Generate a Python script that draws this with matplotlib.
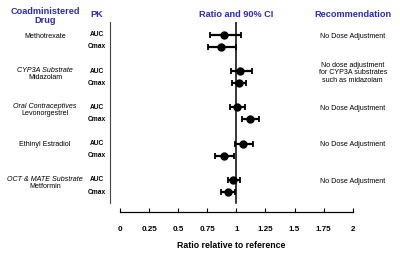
import matplotlib
matplotlib.use("Agg")
import numpy as np
import matplotlib.pyplot as plt

plt.rcParams['font.family'] = ['Liberation Sans', 'DejaVu Sans']

# data
drugs = ["Methotrexate", "Midazolam", "Levonorgestrel", "Ethinyl Estradiol", "Metformin"]
drug_class = ["", "CYP3A Substrate", "Oral Contraceptives", "", "OCT & MATE Substrate"]
pk_params = ["AUC", "Cmax"]
ratio = [0.89, 0.867, 1.033, 1.019, 1.007, 1.113, 1.059, 0.893, 0.973, 0.924]
ci_low = [0.77, 0.758, 0.953, 0.961, 0.947, 1.05, 0.987, 0.815, 0.927, 0.864]
ci_high = [1.036, 0.996, 1.133, 1.084, 1.073, 1.196, 1.144, 0.981, 1.03, 0.987]
recommendation = ["No Dose Adjustment",
                  "No dose adjustment\nfor CYP3A substrates\nsuch as midazolam",
                  "No Dose Adjustment", "No Dose Adjustment", "No Dose Adjustment"]
xticks = [0, 0.25, 0.5, 0.75, 1, 1.25, 1.5, 1.75, 2]

blue = '#2b2bb8'

# row positions: 3 units per drug, AUC then Cmax
ypos = np.array([g * 3 + k for g in range(len(drugs)) for k in range(len(pk_params))])
ratio = np.array(ratio)
err = np.vstack([ratio - np.array(ci_low), np.array(ci_high) - ratio])

fig = plt.figure(figsize=(4, 2.57), dpi=100)
ax = fig.add_axes([0.275, 0.175, 0.607, 0.739])

ax.errorbar(ratio, ypos, xerr=err, fmt='o', color='black', ms=5,
            elinewidth=1.6, capsize=2.2, capthick=1.3)

ymin, ymax = -1.05, 14.65
ax.set_ylim(ymax, ymin)
ax.set_xlim(-0.0858, 2.0)

# reference line at 1
ax.plot([1, 1], [ymin, 13.9], color='black', lw=1.1)

for s in ['top', 'right']:
    ax.spines[s].set_visible(False)
ax.spines['left'].set_bounds(ymin, 13.9)
ax.spines['left'].set_color('#444444')
ax.spines['bottom'].set_bounds(0, 2)
ax.spines['bottom'].set_linewidth(0.9)
ax.set_yticks([])
ax.set_xticks(xticks)
ax.set_xticklabels([f"{t:g}" for t in xticks], fontsize=5.8, fontweight='bold')
ax.tick_params(axis='x', direction='in', length=3, pad=10, width=0.8)
ax.set_xlabel("Ratio relative to reference", fontsize=6.3, fontweight='bold', labelpad=6)

# headers
ax.text(-0.644, -1.55, "Coadministered\nDrug", ha='center', va='center', fontsize=6.6,
        fontweight='bold', color=blue, linespacing=0.95, clip_on=False)
ax.text(-0.197, -1.71, "PK", ha='center', va='center', fontsize=6.6,
        fontweight='bold', color=blue, clip_on=False)
ax.text(1.0, -1.71, "Ratio and 90% CI", ha='center', va='center', fontsize=6.6,
        fontweight='bold', color=blue, clip_on=False)
ax.text(2.0, -1.71, "Recommendation", ha='center', va='center', fontsize=6.6,
        fontweight='bold', color=blue, clip_on=False)

for i, y in enumerate(ypos):
    ax.text(-0.197, y, pk_params[i % 2], ha='center', va='center', fontsize=4.8,
            fontweight='bold', clip_on=False)

for g, name in enumerate(drugs):
    y0 = g * 3
    if drug_class[g]:
        ax.text(-0.644, y0 + 0.25, drug_class[g], ha='center', va='bottom',
                fontsize=5.1, style='italic', clip_on=False)
        ax.text(-0.644, y0 + 0.25, name, ha='center', va='top',
                fontsize=5.1, clip_on=False)
    else:
        ax.text(-0.644, y0 + 0.1, name, ha='center', va='center', fontsize=5.1, clip_on=False)
    ax.text(2.0, y0 + (0.15 if "\n" in recommendation[g] else 0.1), recommendation[g],
            ha='center', va='center', fontsize=5.1, clip_on=False, linespacing=1.05)

fig.savefig("out.png", dpi=100)
